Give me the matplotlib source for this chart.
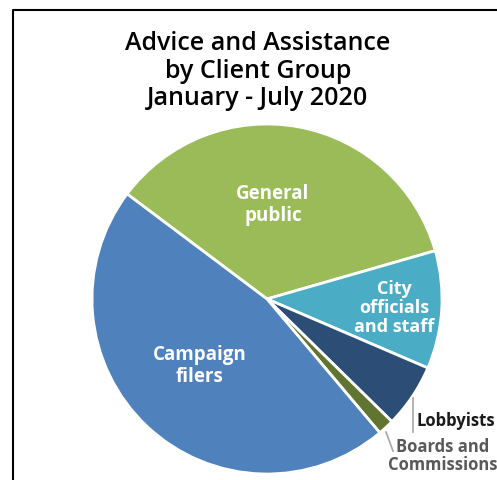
import matplotlib.pyplot as plt
from matplotlib.lines import Line2D

# Share of advice and assistance by client group (percent)
grupos = ["General public", "City officials and staff", "Lobbyists",
          "Boards and Commissions", "Campaign filers"]
porcentajes = [35.3, 10.9, 5.9, 1.5, 46.4]
colores = ["#9BBB59", "#4BACC6", "#2C4D75", "#5F7530", "#4F81BD"]

W, H = 497, 480
CX, CY, R = 267, 299, 175


def fx(px):
    return px / W


def fy(py):
    return 1 - py / H


fig = plt.figure(figsize=(W / 100, H / 100), dpi=100)
plt.rcParams["font.family"] = ["Open Sans", "DejaVu Sans"]

ax = fig.add_axes([(CX - R) / W, (H - CY - R) / H, 2 * R / W, 2 * R / H])
ax.pie(porcentajes, colors=colores, startangle=143.1, counterclock=False,
       radius=1, wedgeprops={"edgecolor": "white", "linewidth": 2})
ax.set_xlim(-1, 1)
ax.set_ylim(-1, 1)
ax.set_aspect("equal")
ax.axis("off")

fig.text(fx(258), fy(71), "Advice and Assistance\nby Client Group\nJanuary - July 2020",
         ha="center", va="center", fontsize=18, fontweight="semibold",
         linespacing=1.12, color="black")

# Etiquetas dentro de las porciones
fig.text(fx(273), fy(205), "General\npublic", ha="center", va="center",
         fontsize=13.5, fontweight="bold", color="white", linespacing=1.15)
fig.text(fx(394), fy(308), "City\nofficials\nand staff", ha="center", va="center",
         fontsize=13, fontweight="bold", color="white", linespacing=1.05)
fig.text(fx(200), fy(366), "Campaign\nfilers", ha="center", va="center",
         fontsize=13.5, fontweight="bold", color="white", linespacing=1.15)

# Etiquetas externas con lineas guia
fig.text(fx(417), fy(421), "Lobbyists", ha="left", va="center",
         fontsize=12, fontweight="bold", color="#1a1a1a")
fig.add_artist(Line2D([fx(413), fx(413)], [fy(398), fy(432)],
                      color="#a6a6a6", lw=1.2))
fig.text(fx(443), fy(456), "Boards and\nCommissions", ha="center", va="center",
         fontsize=12, fontweight="bold", color="#595959", linespacing=1.0)
fig.add_artist(Line2D([fx(386), fx(393)], [fy(432), fy(451)],
                      color="#a6a6a6", lw=1.2))

# Marco parcial (izquierda y arriba)
fig.add_artist(Line2D([fx(13), fx(13), fx(W)], [fy(H), fy(10), fy(10)],
                      color="black", lw=1.5))

fig.savefig("out.png", dpi=100)
